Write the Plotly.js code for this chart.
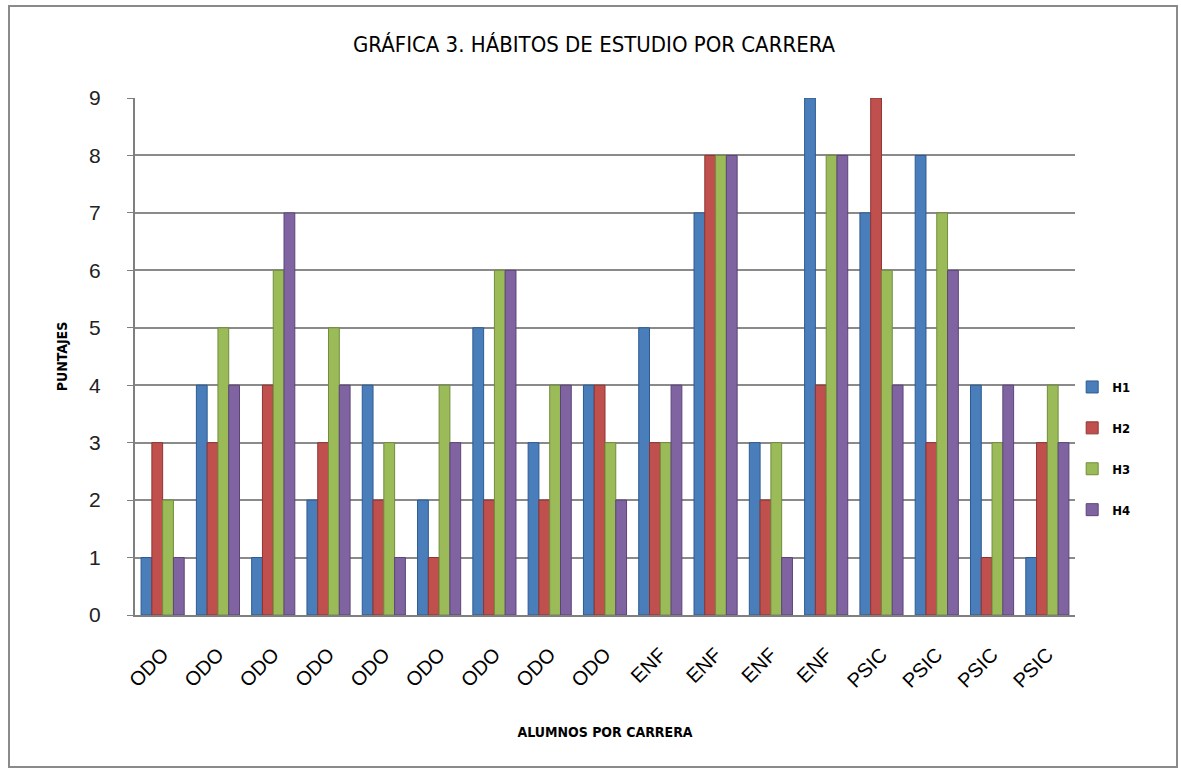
<!DOCTYPE html>
<html>
<head>
<meta charset="utf-8">
<script src="https://cdn.plot.ly/plotly-3.0.1.min.js"></script>
<style>
html,body{margin:0;padding:0;background:#fff;}
#wrap{position:relative;width:1181px;height:772px;}
#chart{position:absolute;left:0;top:0;width:1181px;height:772px;}
#frame{position:absolute;left:8px;top:5px;width:1166px;height:759px;border:2px solid #8a8a8a;pointer-events:none;}
</style>
</head>
<body>
<div id="wrap"><div id="chart"></div><div id="frame"></div></div>
<script>
const categories = ["ODO","ODO","ODO","ODO","ODO","ODO","ODO","ODO","ODO","ENF","ENF","ENF","ENF","PSIC","PSIC","PSIC","PSIC"];
const H1 = [1,4,1,2,4,2,5,3,4,5,7,3,9,7,8,4,1];
const H2 = [3,3,4,3,2,1,2,2,4,3,8,2,4,9,3,1,3];
const H3 = [2,5,6,5,3,4,6,4,3,3,8,3,8,6,7,3,4];
const H4 = [1,4,7,4,1,3,6,4,2,4,8,1,8,4,6,4,3];
const seriesNames = ["H1","H2","H3","H4"];
const colors = ["#4a7ebb","#c0504d","#9bbb59","#8064a2"];
const lineColors = ["#2c5a91","#8f3431","#718c3d","#5b4578"];
const yTicks = [0,1,2,3,4,5,6,7,8,9];

const idx = categories.map((c,i)=>i);
const data = [H1,H2,H3,H4].map((vals,k)=>({
  type:'bar', x: idx, y: vals, name: seriesNames[k], legendgroup: seriesNames[k],
  marker:{color:colors[k], line:{color:lineColors[k], width:1}},
  hoverinfo:'y+name'
}));

const layout = {
  width:1181, height:772,
  margin:{l:135, r:106, t:98, b:157},
  paper_bgcolor:'#ffffff', plot_bgcolor:'#ffffff',
  font:{family:'DejaVu Sans Condensed, Liberation Sans, Arial, sans-serif', color:'#000'},
  title:{text:'GRÁFICA 3. HÁBITOS DE ESTUDIO POR CARRERA', x:0.503, xanchor:'center', y:0.942, yanchor:'middle',
    font:{size:22, family:'DejaVu Sans Condensed, Liberation Sans, Arial, sans-serif', color:'#000'}},
  barmode:'group', bargap:0.22, bargroupgap:0,
  xaxis:{
    tickmode:'array', tickvals: idx, ticktext: categories, tickangle:-45,
    tickfont:{size:20, family:'Liberation Sans, Arial, sans-serif'},
    ticklabelstandoff:18,
    range:[-0.5, categories.length-0.5],
    showline:true, linecolor:'#7f7f7f', linewidth:2, showgrid:false, ticks:'',
    title:{text:'ALUMNOS POR CARRERA', standoff:36, font:{size:14, family:'DejaVu Sans Condensed, Liberation Sans, Arial, sans-serif', weight:'bold'}}
  },
  yaxis:{
    range:[0,9], tickmode:'array', tickvals:yTicks,
    tickfont:{size:21, family:'Liberation Sans, Arial, sans-serif', color:'#222'},
    ticklabelstandoff:22,
    showgrid:true, gridcolor:'#8a8a8a', gridwidth:2,
    showline:true, linecolor:'#7f7f7f', linewidth:2, ticks:'outside', ticklen:6, tickcolor:'#7f7f7f',
    zeroline:false,
    title:{text:'PUNTAJES', standoff:18, font:{size:14, family:'DejaVu Sans Condensed, Liberation Sans, Arial, sans-serif', weight:'bold'}}
  },
  legend:{x:0.997, xanchor:'left', y:0.47, yanchor:'top', tracegroupgap:21, itemwidth:30,
    font:{size:13, family:'DejaVu Sans Condensed, Liberation Sans, Arial, sans-serif', weight:'bold'},
    bgcolor:'rgba(0,0,0,0)'},
  showlegend:true
};

Plotly.newPlot('chart', data, layout, {displayModeBar:false, staticPlot:true});
</script>
</body>
</html>
